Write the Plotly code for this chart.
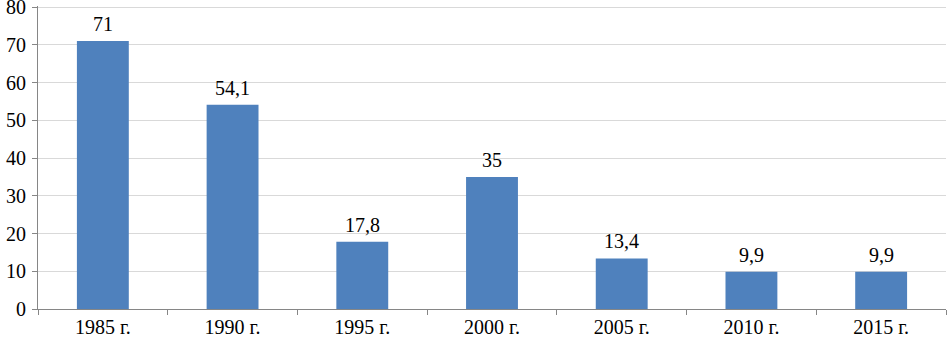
import plotly.graph_objects as go

categories = ["1985 г.", "1990 г.", "1995 г.", "2000 г.", "2005 г.", "2010 г.", "2015 г."]
values = [71, 54.1, 17.8, 35, 13.4, 9.9, 9.9]
labels = ["71", "54,1", "17,8", "35", "13,4", "9,9", "9,9"]
y_ticks = [0, 10, 20, 30, 40, 50, 60, 70, 80]

font = "'Liberation Serif', 'Times New Roman', serif"
fsize = 20

fig = go.Figure(go.Bar(
    x=categories, y=values,
    marker=dict(color="#4F81BD", line=dict(width=0)),
    width=0.4, hoverinfo="x+y",
))

for c, v, t in zip(categories, values, labels):
    fig.add_annotation(
        x=c, y=v, text=t, showarrow=False, yanchor="bottom", yshift=4,
        font=dict(family=font, size=fsize, color="black"),
    )

fig.update_layout(
    width=947, height=341,
    margin=dict(l=38, r=1, t=6, b=32, autoexpand=False),
    paper_bgcolor="white", plot_bgcolor="white",
    font=dict(family=font, size=fsize, color="black"),
    showlegend=False,
    xaxis=dict(
        type="category", showline=True, linecolor="#868686", linewidth=1,
        ticks="outside", ticklen=5, tickcolor="#868686", tickson="boundaries",
        showgrid=False, tickfont=dict(family=font, size=fsize, color="black"),
        automargin=False,
    ),
    yaxis=dict(
        range=[0, 80.3], tickvals=y_ticks, showline=True, linecolor="#868686",
        linewidth=1, ticks="outside", ticklen=5, tickcolor="#868686",
        showgrid=True, gridcolor="#D9D9D9", gridwidth=1, zeroline=False,
        tickfont=dict(family=font, size=fsize, color="black"), automargin=False,
        ticklabelstandoff=2, ticklabeloverflow="allow",
    ),
)

fig.write_html(
    "out.html",
    config={"displayModeBar": False},
    post_script="document.body.style.margin='0';document.body.style.overflow='hidden';",
)
